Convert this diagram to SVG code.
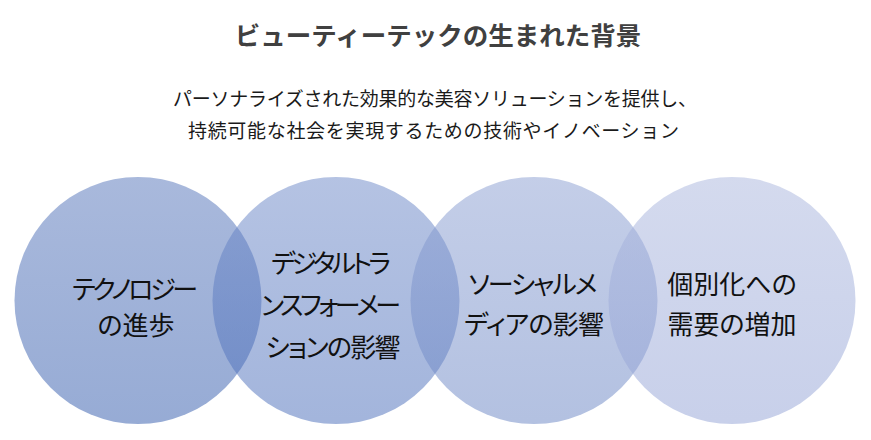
<svg xmlns="http://www.w3.org/2000/svg" width="871" height="440" viewBox="0 0 871 440">
  <defs>
    <linearGradient id="g1" x1="0" y1="0" x2="0" y2="1">
      <stop offset="0" stop-color="#5373b9"/>
      <stop offset="1" stop-color="#2f58ab"/>
    </linearGradient>
    <linearGradient id="g2" x1="0" y1="0" x2="0" y2="1">
      <stop offset="0" stop-color="#6b87c7"/>
      <stop offset="1" stop-color="#476bb9"/>
    </linearGradient>
    <linearGradient id="g3" x1="0" y1="0" x2="0" y2="1">
      <stop offset="0" stop-color="#899dd1"/>
      <stop offset="1" stop-color="#6783c3"/>
    </linearGradient>
    <linearGradient id="g4" x1="0" y1="0" x2="0" y2="1">
      <stop offset="0" stop-color="#a9b5dd"/>
      <stop offset="1" stop-color="#91a1d5"/>
    </linearGradient>
  </defs>
  <style>
    text { font-family: "Noto Sans CJK JP", "Noto Sans", sans-serif; dominant-baseline: central; text-anchor: middle; }
    .title { font-size: 25.5px; font-weight: bold; fill: #404040; }
    .sub { font-size: 19px; fill: #1a1a1a; text-anchor: start; }
    .lbl { font-size: 26px; fill: #111111; font-feature-settings: "palt"; }
    .c { fill-opacity: 0.5; }
  </style>
  <rect width="871" height="440" fill="#ffffff"/>
  <g id="title">
    <text class="title" x="438" y="33.5">ビューティーテックの生まれた背景</text>
  </g>
  <g id="subtitle">
    <text class="sub" x="173" y="97" textLength="524">パーソナライズされた効果的な美容ソリューションを提供し、</text>
    <text class="sub" x="188" y="129" textLength="491">持続可能な社会を実現するための技術やイノベーション</text>
  </g>
  <g id="node1">
    <circle class="c" cx="138" cy="300.5" r="123.5" fill="url(#g1)"/>
  </g>
  <g id="node2">
    <circle class="c" cx="336" cy="300.5" r="123.5" fill="url(#g2)"/>
  </g>
  <g id="node3">
    <circle class="c" cx="534" cy="300.5" r="123.5" fill="url(#g3)"/>
  </g>
  <g id="node4">
    <circle class="c" cx="732" cy="300.5" r="123.5" fill="url(#g4)"/>
  </g>
  <g id="labels">
    <text class="lbl" x="135" y="287" textLength="126">テクノロジー</text>
    <text class="lbl" x="136" y="323">の進歩</text>
    <text class="lbl" x="331" y="261" textLength="120">デジタルトラ</text>
    <text class="lbl" x="331" y="303" textLength="140">ンスフォーメー</text>
    <text class="lbl" x="333" y="345" textLength="135">ションの影響</text>
    <text class="lbl" x="533" y="282" textLength="129">ソーシャルメ</text>
    <text class="lbl" x="534" y="322" textLength="140">ディアの影響</text>
    <text class="lbl" x="732" y="282">個別化への</text>
    <text class="lbl" x="732" y="322">需要の増加</text>
  </g>
  <g id="connectors"></g>
</svg>
